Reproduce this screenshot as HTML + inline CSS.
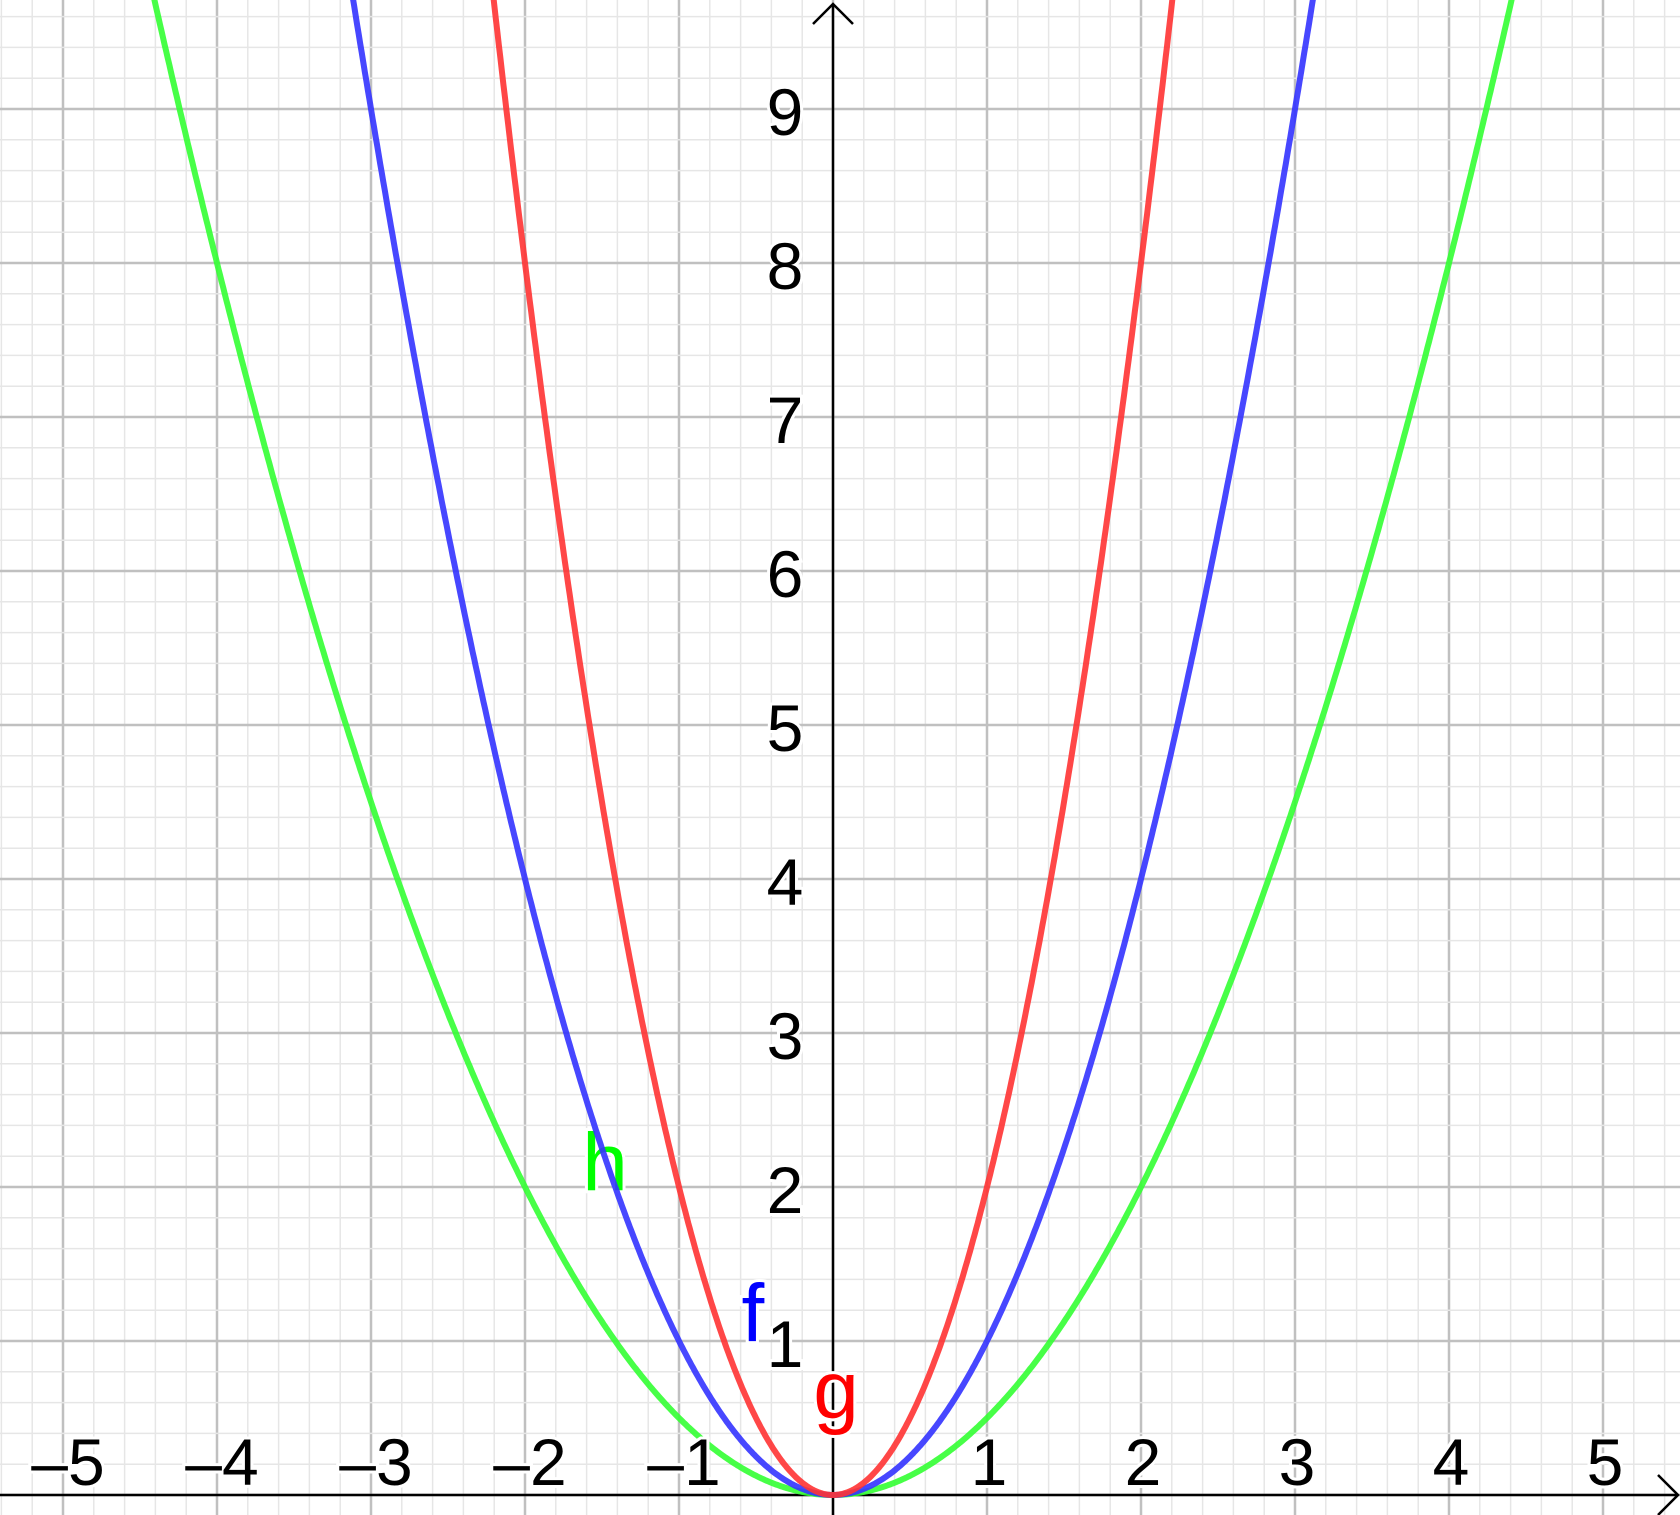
<!DOCTYPE html>
<html><head><meta charset="utf-8"><style>
html,body{margin:0;padding:0;background:#fff;}
svg{display:block;font-family:"Liberation Sans",sans-serif;}
</style></head><body>
<svg id="chart" width="1680" height="1515" viewBox="0 0 1680 1515" xmlns="http://www.w3.org/2000/svg">
<g id="grid"></g>
<g id="axes"></g>
<g id="curves"></g>
<g id="labels"></g>
</svg>
<script>
const xTicks = [-5,-4,-3,-2,-1,1,2,3,4,5];
const yTicks = [1,2,3,4,5,6,7,8,9];
const seriesNames = ["h","f","g"];
const seriesCoef = [0.5,1,2];
const seriesColors = ["#33ff33","#3333ff","#ff3333"];
const labelColors = ["#00ff00","#0000ff","#ff0000"];
const labelPosX = [-1.48,-0.52,0.02];
const labelPosY = [1.98,1.0,0.5];

const OX=833, OY=1495, U=154;
const sx = x => OX + x*U;
const sy = y => OY - y*U;
const NS="http://www.w3.org/2000/svg";
function mk(tag, parent, attrs){const e=document.createElementNS(NS,tag);for(const k in attrs)e.setAttribute(k,attrs[k]);parent.appendChild(e);return e;}

const grid=document.getElementById('grid');
const xmin=Math.floor((0-OX)/U*5)/5, xmax=(1680-OX)/U, ymax=OY/U, ymin=(OY-1515)/U;
for(let i=Math.ceil(xmin*5); i<=xmax*5; i++){
  const major=i%5===0;
  const l=mk('line',grid,{x1:sx(i/5),x2:sx(i/5),y1:0,y2:1515,stroke:major?'#c0c0c0':'#e6e6e6','stroke-width':major?2.5:1.5});
  
  
}
for(let i=Math.floor(ymin*5); i<=ymax*5; i++){
  const major=i%5===0;
  const l=mk('line',grid,{x1:0,x2:1680,y1:sy(i/5),y2:sy(i/5),stroke:major?'#c0c0c0':'#e6e6e6','stroke-width':major?2.5:1.5});
  
  
}
const axes=document.getElementById('axes');
let a=mk('line',axes,{x1:0,x2:1678,y1:OY,y2:OY,stroke:'#000','stroke-width':2.5});

a=mk('polyline',axes,{points:`1658,1475 1678,1495 1658,1515`,fill:'none',stroke:'#000','stroke-width':2.5});

a=mk('line',axes,{x1:OX,x2:OX,y1:4,y2:1515,stroke:'#000','stroke-width':2.5});

a=mk('polyline',axes,{points:`${OX-20},24 ${OX},4 ${OX+20},24`,fill:'none',stroke:'#000','stroke-width':2.5});


const labels=document.getElementById('labels');
xTicks.forEach(v=>{
  const t=mk('text',labels,{x:sx(v)+(v<0?5:2),y:OY-10,'text-anchor':'middle','font-size':66,fill:'#000',stroke:'#fff','stroke-width':6,'paint-order':'stroke'});
  t.textContent=v<0?'\u2013'+(-v):String(v);
  
});
yTicks.forEach(v=>{
  const t=mk('text',labels,{x:OX-48,y:sy(v)+26,'text-anchor':'middle','font-size':66,fill:'#000',stroke:'#fff','stroke-width':6,'paint-order':'stroke'});
  t.textContent=String(v);
  
});

const curves=document.getElementById('curves');
seriesNames.forEach((n,i)=>{
  const c=seriesCoef[i];const pts=[];
  for(let x=-6;x<=6;x+=0.01){const y=c*x*x; if(y<10.5) pts.push(sx(x).toFixed(1)+','+sy(y).toFixed(1));}
  const p=mk('polyline',curves,{points:pts.join(' '),fill:'none',stroke:seriesColors[i],'stroke-opacity':0.9,'stroke-width':6});
  
  const t=mk('text',curves,{x:sx(labelPosX[i]),y:sy(labelPosY[i]),'text-anchor':'middle','font-size':82,fill:labelColors[i],stroke:'#fff','stroke-width':6,'paint-order':'stroke'});
  t.textContent=n;
  
});
</script>
</body></html>
